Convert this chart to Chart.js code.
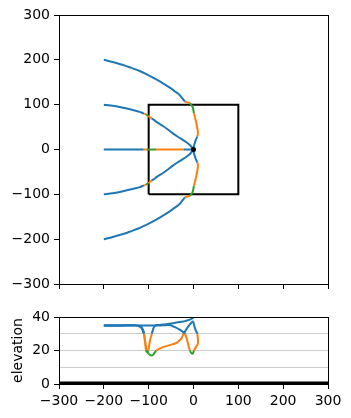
<!DOCTYPE html>
<html>
<head>
<meta charset="utf-8">
<script src="https://cdn.jsdelivr.net/npm/chart.js@4/dist/chart.umd.min.js"></script>
<style>
html, body { margin: 0; padding: 0; background: #fff; }
#wrap { position: relative; width: 351px; height: 418px; }
canvas { position: absolute; left: 0; }
#plan { top: 0; }
#elev { top: 300px; }
</style>
</head>
<body>
<div id="wrap">
<canvas id="plan" width="351" height="300"></canvas>
<canvas id="elev" width="351" height="118"></canvas>
</div>
<script>
// tick labels
var xTicks = [-300, -200, -100, 0, 100, 200, 300];
var yTicks = [-300, -200, -100, 0, 100, 200, 300];
var elevTicks = [0, 20, 40];
var elevGrid = [10, 20, 30];

// the square region
var boxX = [-100, 100, 100, -100, -100];
var boxY = [-100, -100, 100, 100, -100];

// end point
var targetX = [0];
var targetY = [0];

// ground line in the elevation panel
var groundX = [-300, 300];
var groundE = [0, 0];

// track starting at y = 200 (and its mirror at y = -200)
var xA  = [-200, -180, -157, -140, -120, -100, -83, -68, -53, -42, -31, -19, -8, -2, 1, 6.5, 10, 8.5, 5, 0.5, 0];
var yA  = [200, 195, 188.5, 182.5, 175, 165.5, 156.5, 147.5, 138, 130, 121.5, 107, 103, 95, 81, 58, 36, 29, 21, 6, 0];
var yA2 = [-200, -195, -188.5, -182.5, -175, -165.5, -156.5, -147.5, -138, -130, -121.5, -107, -103, -95, -81, -58, -36, -29, -21, -6, 0];
var eA  = [35, 35, 35, 35, 35, 35, 35, 35, 35.2, 34, 32.5, 30, 20, 18, 20, 22.5, 24.2, 30, 32, 36, 37.3];

// track starting at y = 100 (and its mirror at y = -100)
var xB  = [-200, -180, -157, -127, -120, -114, -110, -106, -104, -101, -97, -93, -89, -85, -80, -68, -57, -46, -35, -23, -15, -8, 0];
var yB  = [100, 97.5, 93, 86, 84, 81.5, 80, 78.5, 77, 75, 72, 69, 66.5, 63.5, 60, 52.5, 44.5, 36, 28.5, 21, 15.5, 10, 0];
var yB2 = [-100, -97.5, -93, -86, -84, -81.5, -80, -78.5, -77, -75, -72, -69, -66.5, -63.5, -60, -52.5, -44.5, -36, -28.5, -21, -15.5, -10, 0];
var eB  = [35, 35, 35, 35, 34.7, 33.2, 30, 20, 19.3, 20, 26, 30, 33.5, 35, 35.2, 35.5, 35.8, 36.3, 36.8, 37.3, 37.9, 38.4, 39.5];

// track starting at y = 0
var xM = [-200, -160, -128, -120, -115, -111, -104, -97, -90, -83, -68, -53, -38, -27, -22, -12, -2, 0];
var yM = [0, 0, 0, 0, 0, 0, 0, 0, 0, 0, 0, 0, 0, 0, 0, 0, 0, 0];
var eM = [35, 35, 35, 34.3, 33, 30, 20, 17.3, 17.5, 20, 22, 23.2, 24.6, 27.2, 30, 34.3, 37.3, 37.3];

var blue = '#1f77b4', orange = '#ff7f0e', green = '#2ca02c';

Chart.defaults.font.family = 'DejaVu Sans';
Chart.defaults.font.size = 14;
Chart.defaults.color = '#000';

function colorFor(e) {
    if (e > 30) return blue;
    if (e >= 20) return orange;
    return green;
}

function pts(xs, ys) {
    return xs.map(function (x, i) { return { x: x, y: ys[i] }; });
}

function track(xs, ys, es) {
    return {
        data: pts(xs, ys),
        showLine: true,
        pointRadius: 0,
        borderWidth: 2,
        borderColor: blue,
        tension: 0.3,
        order: 2,
        segment: {
            borderColor: function (c) {
                return colorFor((es[c.p0DataIndex] + es[c.p1DataIndex]) / 2);
            }
        }
    };
}

function minus(v) {
    return v < 0 ? '\u2212' + Math.abs(v) : String(v);
}

var frame = {
    id: 'frame',
    afterDatasetsDraw: function (chart) {
        var a = chart.chartArea, c = chart.ctx;
        c.save();
        c.strokeStyle = '#000';
        c.lineWidth = 1;
        c.strokeRect(Math.round(a.left) + 0.5, Math.round(a.top) + 0.5,
            Math.round(a.right - a.left), Math.round(a.bottom - a.top));
        c.restore();
    }
};

function xAxis(showLabels, h) {
    return {
        type: 'linear', min: -300, max: 300,
        afterBuildTicks: function (s) { s.ticks = xTicks.map(function (v) { return { value: v }; }); },
        afterFit: function (s) { s.height = h; },
        grid: { drawOnChartArea: false, tickLength: 5, tickColor: '#000' },
        border: { display: false },
        ticks: {
            padding: 4, maxRotation: 0, autoSkip: false,
            callback: function (v) { return showLabels ? minus(v) : ''; }
        }
    };
}

new Chart(document.getElementById('plan'), {
    type: 'scatter',
    data: {
        datasets: [
            { data: pts(targetX, targetY), pointRadius: 2.5, pointBackgroundColor: '#000', pointBorderWidth: 0, order: 0 },
            track(xA, yA, eA),
            track(xB, yB, eB),
            track(xM, yM, eM),
            track(xB, yB2, eB),
            track(xA, yA2, eA),
            { data: pts(boxX, boxY), showLine: true, pointRadius: 0, borderColor: '#000', borderWidth: 2, order: 5 }
        ]
    },
    options: {
        responsive: false,
        animation: false,
        layout: { padding: { left: 0, right: 23, top: 15, bottom: 0 } },
        plugins: { legend: { display: false }, tooltip: { enabled: false } },
        scales: {
            x: xAxis(false, 16),
            y: {
                type: 'linear', min: -300, max: 300,
                afterBuildTicks: function (s) { s.ticks = yTicks.map(function (v) { return { value: v }; }); },
                afterFit: function (s) { s.width = 59; },
                grid: { drawOnChartArea: false, tickLength: 5, tickColor: '#000' },
                border: { display: false },
                ticks: { padding: 4, autoSkip: false, callback: minus }
            }
        }
    },
    plugins: [frame]
});

new Chart(document.getElementById('elev'), {
    type: 'scatter',
    data: {
        datasets: [
            { data: pts(groundX, groundE), showLine: true, pointRadius: 0, borderColor: '#000', borderWidth: 5, clip: 0, order: 0 },
            track(xA, eA, eA),
            track(xB, eB, eB),
            track(xM, eM, eM)
        ]
    },
    options: {
        responsive: false,
        animation: false,
        layout: { padding: { left: 0, right: 23, top: 17, bottom: 0 } },
        plugins: { legend: { display: false }, tooltip: { enabled: false } },
        scales: {
            x: xAxis(true, 34),
            y: {
                type: 'linear', min: 0, max: 40,
                afterBuildTicks: function (s) {
                    s.ticks = [0, 10, 20, 30, 40].map(function (v) { return { value: v }; });
                },
                afterFit: function (s) { s.width = 59; },
                grid: {
                    tickLength: 5,
                    lineWidth: 1,
                    color: function (c) { return elevGrid.indexOf(c.tick.value) >= 0 ? '#cccccc' : 'rgba(0,0,0,0)'; },
                    tickColor: function (c) { return elevTicks.indexOf(c.tick.value) >= 0 ? '#000' : 'rgba(0,0,0,0)'; }
                },
                border: { display: false },
                title: { display: true, text: 'elevation', padding: { top: 10, bottom: 0 } },
                ticks: {
                    padding: 4, autoSkip: false,
                    callback: function (v) { return elevTicks.indexOf(v) >= 0 ? String(v) : ''; }
                }
            }
        }
    },
    plugins: [frame]
});
</script>
</body>
</html>
